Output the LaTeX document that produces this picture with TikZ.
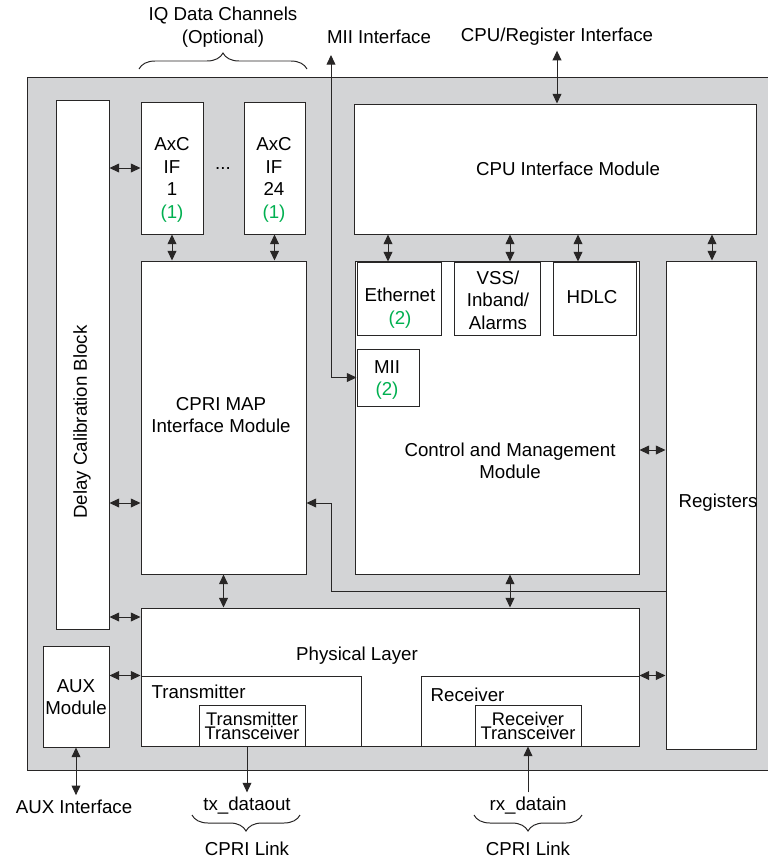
\documentclass[tikz,border=0pt]{standalone}
\usepackage{fontspec}
\setmainfont{Liberation Sans}
\usetikzlibrary{arrows.meta, positioning, calc, fit, decorations.pathreplacing}

\definecolor{panelgray}{RGB}{211,212,214}
\definecolor{linegray}{RGB}{40,38,38}
\definecolor{notegreen}{RGB}{0,176,80}

\begin{document}
\begin{tikzpicture}[
    x=0.25mm, y=-0.25mm,
    font=\fontsize{13.3}{16}\selectfont,
    >={Triangle[length=2.4mm,width=2.2mm]},
    blk/.style={draw=linegray, fill=white, line width=0.7pt, inner sep=0pt},
    txt/.style={align=center, inner sep=1pt},
    tight/.style={align=center, inner sep=1pt, font=\fontsize{13}{10.5}\selectfont},
    conn/.style={<->, draw=linegray, line width=0.7pt},
    link/.style={->, draw=linegray, line width=0.7pt},
    brc/.style={draw=linegray, line width=0.7pt, decorate, decoration={brace, amplitude=4mm}}
]

\useasboundingbox (0,0) rectangle (768,859);

% -------- Levels used by connectors --------
\coordinate (lvA) at (0,503);
\coordinate (lvB) at (0,617);
\coordinate (lvC) at (0,450);
\coordinate (lvD) at (0,591);
\coordinate (colV) at (510,0);
\coordinate (miitop) at (331,55);

% -------- Gray panel --------
\fill[panelgray] (27,77) rectangle (768,770);
\draw[linegray, line width=0.7pt] (768,77) -- (27,77) -- (27,770) -- (768,770);

% -------- Blocks --------
\node[blk, fit={(56,100) (109,629)}] (delay) {};
\node[blk, fit={(141,102) (203,234)}] (axcA) {};
\node[blk, fit={(244,102) (305,234)}] (axcB) {};
\node[blk, fit={(141,261) (306,574)}] (cpri) {};
\node[blk, fit={(354,104) (756,234)}] (cpuif) {};
\node[blk, fit={(355,261) (639,574)}] (cmm) {};
\node[blk, fit={(357,262) (441,335)}] (eth) {};
\node[blk, fit={(454,262) (540,335)}] (vss) {};
\node[blk, fit={(553,262) (636,335)}] (hdlc) {};
\node[blk, fit={(357,349) (419,406)}] (mii) {};
\node[blk, fit={(666,261) (756,749)}] (regs) {};
\node[blk, fit={(141,608) (639,746)}] (phy) {};
\node[blk, fit={(141,676) (361,746)}] (tx) {};
\node[blk, fit={(199,705) (305,746)}] (txcv) {};
\node[blk, fit={(421,676) (639,746)}] (rx) {};
\node[blk, fit={(475,705) (581,746)}] (rxcv) {};
\node[blk, fit={(43,646) (109,747)}] (aux) {};

% -------- Block texts --------
\node[txt] (axcAtxt) at (172,180) {AxC\\IF\\1\\\textcolor{notegreen}{(1)}};
\node[txt] (axcBtxt) at (274,180) {AxC\\IF\\24\\\textcolor{notegreen}{(1)}};
\node (dots) at (223,168) {...};
\node[txt, rotate=90] (delaytxt) at (82,422) {Delay Calibration Block};
\node[txt] (cpritxt) at (221,415) {CPRI MAP\\Interface Module};
\node[txt] (cpuiftxt) at (568,169) {CPU Interface Module};
\node[txt] (ethtxt) at (400,308) {Ethernet\\\textcolor{notegreen}{(2)}};
\node[txt] (vsstxt) at (498,300) {VSS/\\Inband/\\Alarms};
\node[txt] (hdlctxt) at (592,297) {HDLC};
\node[txt] (miitxt) at (387,380) {MII\\\textcolor{notegreen}{(2)}};
\node[txt] (cmmtxt) at (510,461) {Control and Management\\Module};
\node[txt] (regstxt) at (718,503) {Registers};
\node[txt] (phytxt) at (357,656) {Physical Layer};
\node[txt, anchor=west] (txtxt) at (150,692) {Transmitter};
\node[txt, anchor=west] (rxtxt) at (429,695) {Receiver};
\node[tight] (txcvtxt) at (252,726) {Transmitter\\Transceiver};
\node[tight] (rxcvtxt) at (528,726) {Receiver\\Transceiver};
\node[txt] (auxtxt) at (76,697) {AUX\\Module};

% -------- Outside labels --------
\node[align=center] (iqlbl) at (223,27) {IQ Data Channels\\(Optional)};
\node (miilbl) at (379,37) {MII Interface};
\node (cpulbl) at (557,37) {CPU/Register Interface};
\node (auxlbl) at (74,807) {AUX Interface};
\node (txlbl) at (247,806) {tx\_dataout};
\node (rxlbl) at (528,806) {rx\_datain};
\node (txlink) at (247,849) {CPRI Link};
\node (rxlink) at (528,849) {CPRI Link};

% braces
\draw[brc] (139,69) -- (307,69);
\draw[brc] (300,815) -- (192,815);
\draw[brc] (582,815) -- (474,815);

% -------- Connectors --------
\draw[conn] (delay.east |- axcA.west) -- (axcA.west);
\draw[conn] (axcA.south) -- (axcA.south |- cpri.north);
\draw[conn] (axcB.south) -- (axcB.south |- cpri.north);
\draw[conn] (delay.east |- lvA) -- (cpri.west |- lvA);
\draw[conn] (cpri.south) -- (cpri.south |- phy.north);
\draw[conn] (delay.east |- lvB) -- (phy.west |- lvB);
\draw[conn] (aux.east |- tx.north west) -- (tx.north west);

% cpu interface to modules below
\foreach \x/\n in {388/eth, 510/vss, 578/hdlc, 712/regs} {
    \coordinate (col) at (\x,0);
    \draw[conn] (cpuif.south -| col) -- (\n.north -| col);
}

\draw[conn] (miitop) |- (mii.west);
\draw[conn] (cpulbl.south) -- (cpulbl.south |- cpuif.north);
\draw[conn] (cmm.east |- lvC) -- (regs.west |- lvC);
\draw[link] (regs.west |- lvD) -| (miitop |- lvA) -- (cpri.east |- lvA);
\draw[conn] (cmm.south -| colV) -- (phy.north -| colV);
\draw[conn] (phy.east |- tx.north east) -- (regs.west |- tx.north east);

% external links
\draw[conn] (aux.south) -- (aux.south |- auxlbl.north);
\draw[link] (txlbl.north |- txcv.south) -- (txlbl.north);
\draw[link] (rxlbl.north) -- (rxlbl.north |- rxcv.south);

\end{tikzpicture}
\end{document}
